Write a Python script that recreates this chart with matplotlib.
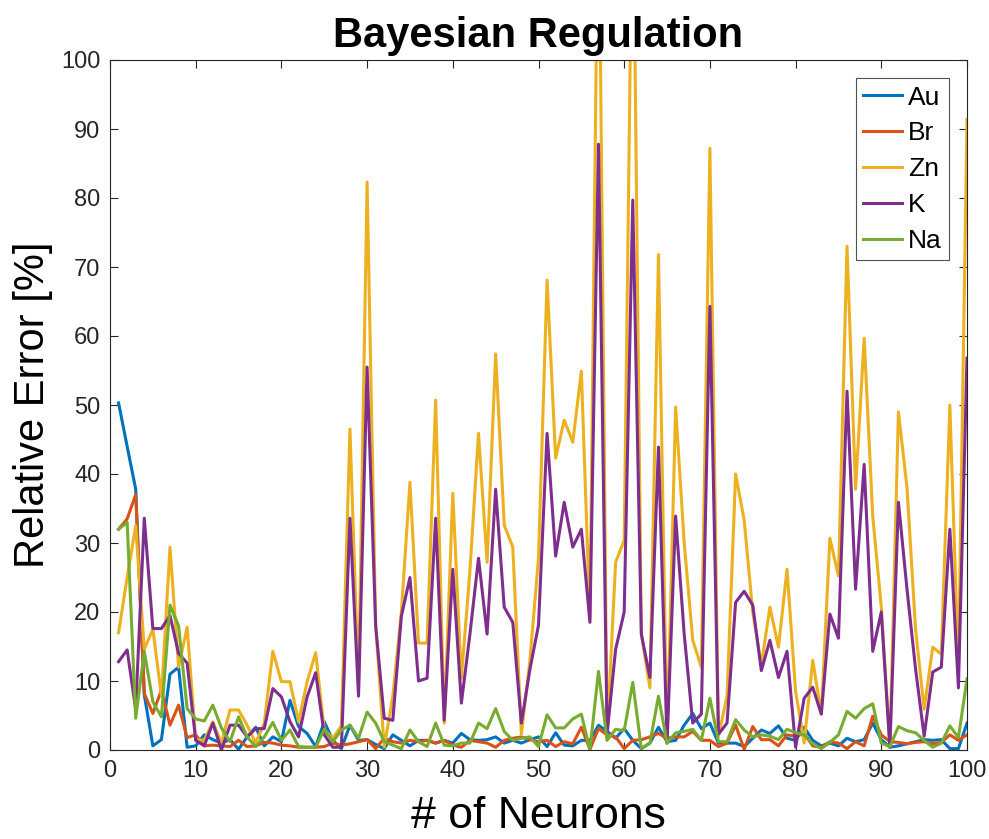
import numpy as np
import matplotlib.pyplot as plt

plt.rcParams['font.family'] = ['Liberation Sans', 'DejaVu Sans']

# neuron counts on the x axis
neurons = np.arange(1, 101)

# relative error [%] per element
au = [50.3, 44, 37.8, 8, 0.6, 1.5, 11, 12, 0.4, 0.6,
      2.2, 1.5, 1, 1.5, 0.1, 1.9, 3.3, 0.6, 1.9, 1.2,
      7.2, 3.4, 2.4, 0.5, 4.1, 1.4, 0.2, 3.6, 1.4, 1.5,
      0.8, 0.2, 2.2, 1.4, 0.6, 1.4, 1.4, 1, 1.4, 1,
      2.4, 1.5, 1.4, 1.5, 1.9, 1, 1.4, 1, 1.5, 1.9,
      0.5, 2.5, 0.7, 0.6, 1.4, 1.4, 3.6, 2.7, 1.7, 3.1,
      1.4, 0.2, 1, 3.3, 1.2, 1.4, 3.6, 5.3, 3.1, 3.9,
      1, 1, 1, 0.5, 1.7, 2.9, 2.4, 3.5, 1.7, 1.4,
      3.3, 1.4, 0.6, 1, 0.6, 1.7, 1.2, 1.5, 3.9, 1.5,
      0.4, 0.6, 0.9, 1.2, 1.5, 1.4, 1.5, 0.2, 0.2, 3.9]

br = [32, 33.5, 37, 8.2, 5.3, 8.7, 3.6, 6.5, 1.8, 2.2,
      0.6, 0.7, 0.6, 0.5, 1.4, 0.5, 0.6, 1.1, 1, 0.7,
      0.6, 0.4, 0.4, 0.4, 0.5, 1, 0.7, 0.9, 1.2, 1.5,
      0.2, 1.7, 1.2, 1, 1.4, 1.2, 1.4, 1, 1.4, 0.7,
      0.4, 1.4, 1.2, 1, 0.4, 1.4, 1.7, 1.9, 1.5, 1.2,
      1.4, 0.5, 1.2, 0.9, 3.3, 0.1, 3.1, 2.2, 1.9, 0.2,
      1.4, 1.5, 1.9, 2.4, 1.7, 1.9, 1.9, 2.7, 1.4, 1.4,
      0.5, 1, 3.6, 0.1, 3.4, 1.5, 1.5, 0.6, 2.2, 2.0,
      2.4, 0.6, 0.4, 1.2, 1, 0.2, 1.2, 0.6, 4.9, 2.2,
      1.2, 1.1, 0.9, 1.1, 1.2, 0.9, 1.1, 2.2, 1.4, 2.2]

zn = [17, 25, 32.5, 14.6, 17.5, 7.8, 29.4, 12, 17.8, 1.5,
      1.4, 4.1, 1.0, 5.8, 5.8, 3.6, 1, 3.9, 14.3, 9.9,
      9.9, 4.1, 9.9, 14.1, 2.9, 1.7, 3.5, 46.5, 9.1, 82.3,
      18, 0.4, 7.8, 20, 38.8, 15.5, 15.5, 50.7, 3.9, 37.2,
      10.4, 26, 45.9, 27.2, 57.4, 32.6, 29.4, 2.3, 13, 27.8,
      68.1, 42.3, 47.8, 44.6, 54.9, 19, 130, 2, 27.2, 30.4,
      130, 16.8, 9, 71.8, 1, 49.7, 30, 15.9, 12, 87.2,
      2, 7.8, 40, 33.3, 20, 12.3, 20.7, 14.9, 26.2, 8.5,
      1, 13, 5.2, 30.7, 25.2, 73, 37.8, 59.7, 33.9, 20.7,
      0.4, 49, 38, 17.5, 5.9, 14.9, 13.9, 50, 11.7, 91.4]

k = [12.8, 14.5, 5.9, 33.6, 17.6, 17.6, 19.5, 14, 12.6, 1.4,
     0.6, 3.9, 0, 3.6, 3.6, 1.9, 3.1, 3.1, 8.9, 7.7,
     4.1, 1.9, 7.7, 11.2, 2.2, 0.4, 0.4, 33.6, 7.8, 55.5,
     18, 4.6, 4.3, 19.4, 25, 10, 10.4, 33.6, 4.3, 26.2,
     6.8, 16.8, 27.8, 16.8, 37.8, 20.7, 18.5, 3.9, 11.7, 18.1,
     45.9, 28.1, 35.9, 29.4, 32, 18.5, 87.8, 2.3, 14.6, 20,
     79.7, 16.8, 10.5, 43.9, 1, 33.9, 16.8, 3.9, 5.2, 64.3,
     2.3, 3.9, 21.4, 23, 21, 11.5, 15.9, 10.5, 14.3, 0.4,
     7.5, 9.1, 5.2, 19.7, 16.2, 52, 23.3, 41.4, 14.3, 20,
     0.4, 35.9, 23.3, 11.7, 2, 11.3, 12, 32, 9, 56.8]

na = [32, 33, 4.6, 14.3, 7, 4.8, 21, 18, 6, 4.5,
      4.2, 6.5, 3.2, 1.2, 4.8, 1.9, 0.5, 1.9, 4, 1.4,
      2.9, 0.5, 0.4, 0.4, 3, 1.2, 2.9, 3.6, 1.7, 5.5,
      3.9, 1.2, 0.7, 0.2, 2.9, 1.2, 0.5, 3.9, 0.7, 0.6,
      1, 1, 3.9, 3.1, 6, 2.7, 1.4, 1.7, 1.9, 0.5,
      5.1, 3.2, 3.2, 4.5, 5.2, 0, 11.4, 1.4, 3, 2.8,
      9.8, 0.2, 1, 7.8, 1, 2.5, 2.7, 3, 1.4, 7.5,
      1.2, 1.2, 4.4, 2.9, 1.9, 2.2, 2, 1.5, 3, 2.5,
      2.2, 0.9, 0.2, 1.1, 2.2, 5.6, 4.6, 6, 6.7, 1.0,
      0.5, 3.4, 2.8, 2.5, 1.4, 0.4, 1, 3.5, 1.8, 10.3]

series = [('Au', au, '#0072BD'), ('Br', br, '#D95319'), ('Zn', zn, '#EDB120'),
          ('K', k, '#7E2F8E'), ('Na', na, '#77AC30')]

fig = plt.figure(figsize=(9.89, 8.39), dpi=100)
ax = fig.add_axes([110/989, 89/839, 857/989, 690/839])

for name, vals, col in series:
    ax.plot(neurons, vals, color=col, lw=2.2, label=name)

ax.set_xlim(0, 100)
ax.set_ylim(0, 100)
ax.set_xticks(np.arange(0, 101, 10))
ax.set_yticks(np.arange(0, 101, 10))

axcol = '#262626'
for s in ax.spines.values():
    s.set_color(axcol)
    s.set_linewidth(0.8)
ax.tick_params(direction='in', length=6, width=0.8, colors=axcol,
               labelsize=17, top=True, right=True, pad=7)

ax.set_title('Bayesian Regulation', fontsize=30, fontweight='bold', pad=9)
ax.set_xlabel('# of Neurons', fontsize=32, labelpad=10)
ax.set_ylabel('Relative Error [%]', fontsize=30, labelpad=6)

leg = ax.legend(loc='upper right', fontsize=19, frameon=True, fancybox=False,
                edgecolor=axcol, handlelength=1.5, handletextpad=0.2,
                labelspacing=0.45, borderpad=0.27, borderaxespad=0.7)
leg.get_frame().set_linewidth(0.8)

fig.savefig('out.png', dpi=100)
